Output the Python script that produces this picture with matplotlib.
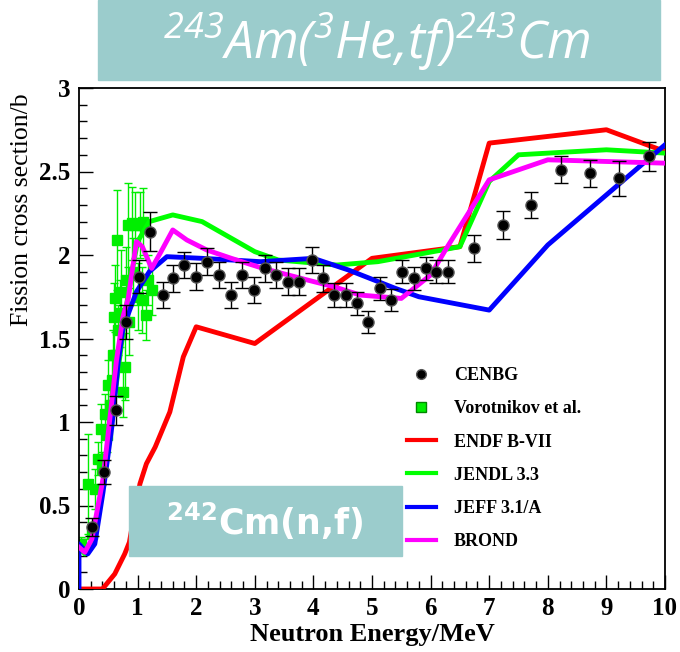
import numpy as np
import matplotlib
matplotlib.use('Agg')
import matplotlib.pyplot as plt
from matplotlib.patches import Rectangle
from matplotlib.lines import Line2D

# ============================================================
# data
# ============================================================
cenbg_x = [0.23, 0.43, 0.63, 0.81, 1.02, 1.21, 1.43, 1.61, 1.80, 2.00, 2.18, 2.39,
           2.59, 2.78, 2.99, 3.18, 3.37, 3.56, 3.76, 3.97, 4.16, 4.35, 4.55, 4.74,
           4.94, 5.14, 5.33, 5.52, 5.72, 5.92, 6.10, 6.30, 6.74, 7.23, 7.72, 8.22,
           8.72, 9.22, 9.72]
cenbg_y = [0.37, 0.70, 1.07, 1.60, 1.87, 2.14, 1.76, 1.86, 1.94, 1.87, 1.96, 1.88,
           1.76, 1.88, 1.79, 1.92, 1.88, 1.84, 1.84, 1.97, 1.86, 1.76, 1.76, 1.71,
           1.60, 1.80, 1.73, 1.90, 1.86, 1.92, 1.90, 1.90, 2.04, 2.18, 2.30, 2.51,
           2.49, 2.46, 2.59]
cenbg_err = [0.055, 0.07, 0.085, 0.10, 0.10, 0.115, 0.08, 0.08, 0.08, 0.08, 0.08, 0.08,
             0.08, 0.08, 0.08, 0.08, 0.08, 0.08, 0.08, 0.08, 0.08, 0.07, 0.07, 0.07,
             0.065, 0.07, 0.065, 0.07, 0.07, 0.07, 0.07, 0.07, 0.08, 0.085, 0.08, 0.08,
             0.08, 0.105, 0.085]

voro_x = [0.03, 0.15, 0.22, 0.28, 0.33, 0.37, 0.40, 0.45, 0.48, 0.50, 0.53, 0.56,
          0.58, 0.60, 0.62, 0.64, 0.66, 0.70, 0.72, 0.75, 0.78, 0.80, 0.83, 0.86,
          0.90, 0.93, 0.96, 1.00, 1.04, 1.07, 1.10, 1.14, 1.17, 1.24]
voro_y = [0.27, 0.63, 0.33, 0.60, 0.78, 0.96, 0.72, 1.05, 0.92, 1.22, 1.10, 1.25,
          1.40, 1.63, 1.74, 2.09, 1.55, 1.65, 1.78, 1.18, 1.33, 1.85, 2.18, 1.60,
          2.19, 1.90, 2.18, 1.75, 2.18, 1.73, 2.20, 1.64, 1.85, 1.79]
voro_err = [0.04, 0.30, 0.05, 0.12, 0.10, 0.15, 0.10, 0.12, 0.10, 0.15, 0.12, 0.15,
            0.15, 0.20, 0.20, 0.30, 0.15, 0.20, 0.25, 0.15, 0.20, 0.20, 0.25, 0.20,
            0.22, 0.20, 0.20, 0.20, 0.20, 0.20, 0.20, 0.15, 0.15, 0.15]

endf_x = [0.0, 0.4, 0.61, 0.78, 0.86, 0.96, 1.04, 1.15, 1.30, 1.55, 1.78, 2.0, 3.0,
          5.0, 6.5, 7.0, 9.0, 10.0]
endf_y = [0.0, 0.0, 0.09, 0.21, 0.28, 0.48, 0.63, 0.75, 0.85, 1.06, 1.39, 1.57, 1.47,
          1.98, 2.05, 2.67, 2.75, 2.62]

jendl_x = [0.0, 0.1, 0.2, 0.35, 0.5, 0.7, 0.85, 1.0, 1.2, 1.6, 2.1, 2.6, 3.0, 3.4,
           4.4, 5.1, 6.2, 6.5, 7.0, 7.5, 9.0, 10.0]
jendl_y = [0.25, 0.21, 0.24, 0.50, 0.85, 1.40, 1.80, 2.08, 2.20, 2.24, 2.20, 2.10,
           2.02, 1.97, 1.94, 1.96, 2.03, 2.05, 2.44, 2.60, 2.63, 2.61]

jeff_x = [0.0, 0.0, 0.15, 0.27, 0.41, 0.56, 0.67, 0.75, 0.98, 1.2, 1.5, 2.1, 3.1,
          4.0, 4.6, 5.4, 5.8, 7.0, 8.0, 10.0]
jeff_y = [0.0, 0.27, 0.21, 0.27, 0.58, 0.97, 1.36, 1.56, 1.78, 1.90, 1.99, 1.98,
          1.96, 1.98, 1.91, 1.80, 1.75, 1.67, 2.06, 2.66]

brond_x = [0.0, 0.1, 0.22, 0.41, 0.64, 0.75, 0.84, 0.98, 1.08, 1.24, 1.4, 1.6,
           1.84, 2.18, 2.6, 3.14, 3.9, 4.35, 4.8, 5.5, 6.0, 6.27, 7.0, 8.0, 10.0]
brond_y = [0.25, 0.22, 0.30, 0.66, 1.37, 1.63, 1.74, 2.08, 2.05, 1.92, 2.02,
           2.15, 2.09, 2.03, 1.98, 1.92, 1.85, 1.81, 1.76, 1.74, 1.88, 2.04, 2.45,
           2.57, 2.55]

legend_labels = ['CENBG', 'Vorotnikov et al.', 'ENDF B-VII', 'JENDL 3.3',
                 'JEFF 3.1/A', 'BROND']

W, H = 680, 652
TEAL = '#9bcccc'
serif = ['Liberation Serif', 'DejaVu Serif']

plt.rcParams['mathtext.fontset'] = 'custom'
plt.rcParams['mathtext.rm'] = 'Open Sans:italic'
plt.rcParams['mathtext.it'] = 'Open Sans:italic'
plt.rcParams['mathtext.bf'] = 'DejaVu Sans:bold'

fig = plt.figure(figsize=(W / 100, H / 100), dpi=100)
ax = fig.add_axes([79 / W, (H - 589) / H, 586 / W, 501 / H])

# Vorotnikov points below the curves
ax.errorbar(voro_x, voro_y, yerr=voro_err, fmt='s', color='#00ee00', ms=7,
            elinewidth=1.0, capsize=3, capthick=1.0, zorder=2)

lw = 3.5
ax.plot(endf_x, endf_y, color='#ff0000', lw=lw, zorder=3)
ax.plot(jendl_x, jendl_y, color='#00ff00', lw=lw, zorder=3)
ax.plot(jeff_x, jeff_y, color='#0000ff', lw=lw, zorder=3)
ax.plot(brond_x, brond_y, color='#ff00ff', lw=lw, zorder=4)

ax.errorbar(cenbg_x, cenbg_y, yerr=cenbg_err, fmt='o', color='black', ms=8,
            mec='#555555', mew=1.0, ecolor='black', elinewidth=1.0,
            capsize=5, capthick=1.0, zorder=5)

ax.set_xlim(0, 10)
ax.set_ylim(0, 3)
ax.set_xticks(np.arange(0, 11, 1))
ax.set_xticks(np.arange(0, 10.01, 0.2), minor=True)
ax.set_yticks(np.arange(0, 3.01, 0.5))
ax.set_yticks(np.arange(0, 3.01, 0.1), minor=True)
ax.set_yticklabels(['0', '0.5', '1', '1.5', '2', '2.5', '3'])
ax.tick_params(which='both', direction='in', top=False, right=False)
ax.tick_params(which='major', length=10, width=1.0, pad=6)
ax.tick_params(which='minor', length=6, width=1.0)
for lab in ax.get_xticklabels() + ax.get_yticklabels():
    lab.set_family(serif)
    lab.set_fontweight('bold')
    lab.set_fontsize(18)
for sp in ax.spines.values():
    sp.set_linewidth(1.3)

ax.set_xlabel('Neutron Energy/MeV', family=serif, fontweight='bold',
              fontsize=19, labelpad=2)
fig.text(22 / W, 1 - 210 / H, 'Fission cross section/b', family=serif,
         fontsize=18.5, rotation=90, ha='center', va='center')

handles = [
    Line2D([], [], marker='o', ls='none', color='black', mec='#555555', ms=7),
    Line2D([], [], marker='s', ls='none', color='#00ee00', mec='#008800', ms=7),
    Line2D([], [], color='#ff0000', lw=3),
    Line2D([], [], color='#00ff00', lw=3),
    Line2D([], [], color='#0000ff', lw=3),
    Line2D([], [], color='#ff00ff', lw=3),
]
ax.legend(handles, legend_labels, loc='upper left',
          bbox_to_anchor=((398 - 79) / 586, (589 - 358) / 501),
          frameon=False, prop=dict(family=serif, weight='bold', size=13),
          labelspacing=0.9, handlelength=1.6, handletextpad=1.0, borderpad=0)

# title box on top
fig.patches.append(Rectangle((98 / W, 1 - 80 / H), 562 / W, 80 / H,
                             transform=fig.transFigure, color=TEAL, zorder=0))
fig.text(377 / W, 1 - 42 / H, r'$^{243}$Am($^{3}$He,tf)$^{243}$Cm',
         family='Open Sans', style='italic', fontsize=37, color='white',
         ha='center', va='center')

# inner box over the axes
fig.patches.append(Rectangle((129 / W, 1 - 556 / H), 273 / W, 70 / H,
                             transform=fig.transFigure, color=TEAL, zorder=10))
fig.text(265 / W, 1 - 521 / H, r'$\mathbf{^{242}}$Cm(n,f)', family='DejaVu Sans',
         fontweight='bold', fontsize=25, color='white', ha='center', va='center',
         zorder=11)

plt.savefig('out.png', dpi=100)
